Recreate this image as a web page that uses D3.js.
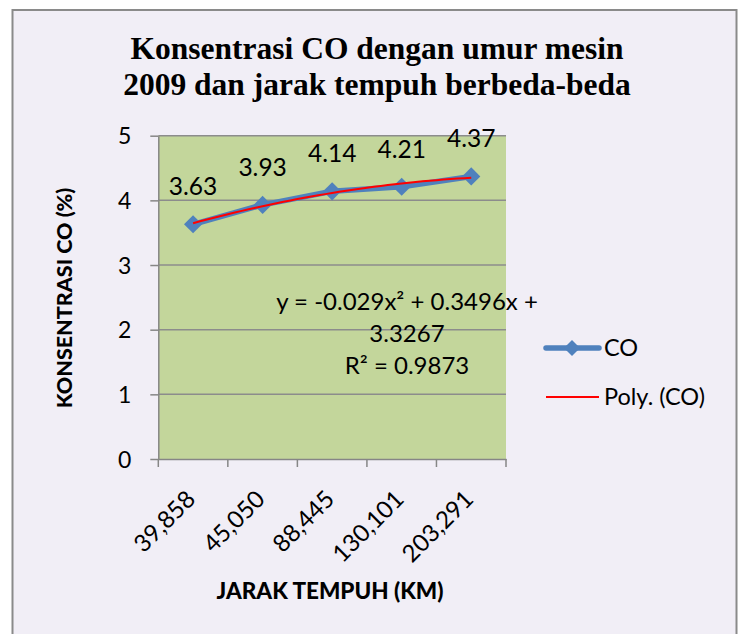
<!DOCTYPE html>
<html><head><meta charset="utf-8">
<script src="https://cdn.jsdelivr.net/npm/d3@7/dist/d3.min.js"></script>
<style>body{margin:0;background:#fff}svg{display:block}</style>
</head><body><svg id="c" width="741" height="634"></svg>
<script>
const titleLines = ["Konsentrasi CO dengan umur mesin", "2009 dan jarak tempuh berbeda-beda"];
const categories = ["39,858", "45,050", "88,445", "130,101", "203,291"];
const coValues = [3.63, 3.93, 4.14, 4.21, 4.37];
const yTicks = [0, 1, 2, 3, 4, 5];
const trendCoef = [-0.029, 0.3496, 3.3267];
const trendLabel = ["y = -0.029x² + 0.3496x +", "3.3267", "R² = 0.9873"];
const legendLabels = ["CO", "Poly. (CO)"];
const yTitle = "KONSENTRASI CO (%)";
const xTitle = "JARAK TEMPUH (KM)";

const svg = d3.select("#c");
const sans = "Lato, 'Noto Sans', sans-serif";
const blue = "#4f81bd";

svg.append("rect").attr("x", 12.5).attr("y", 10).attr("width", 724).attr("height", 640)
  .attr("fill", "#f1eef6").attr("stroke", "#8a8a8a").attr("stroke-width", 2);

// title
svg.append("g").selectAll("text").data(titleLines).join("text")
  .attr("x", 377).attr("y", (d, i) => 59 + i * 36)
  .attr("text-anchor", "middle")
  .attr("font-family", "'Liberation Serif', 'Times New Roman', serif")
  .attr("font-weight", "bold").attr("font-size", 31.5)
  .text(d => d);

const L = 158.3, R = 506, T = 135.7, B = 459;
const x = d3.scaleBand().domain(categories).range([L, R]).padding(0);
const y = d3.scaleLinear().domain([0, 5]).range([B, T]);

svg.append("rect").attr("x", L).attr("y", T).attr("width", R - L).attr("height", B - T).attr("fill", "#c3d69b");

// gridlines
svg.append("g").selectAll("line").data(yTicks.filter(d => d > 0)).join("line")
  .attr("x1", L).attr("x2", R).attr("y1", d => y(d)).attr("y2", d => y(d))
  .attr("stroke", "#8c8c8c").attr("stroke-width", 1.5);

// y axis
const yAxis = svg.append("g").attr("transform", `translate(${L},0)`)
  .call(d3.axisLeft(y).tickValues(yTicks).tickFormat(d3.format("d")).tickSize(8).tickPadding(19).tickSizeOuter(0));
yAxis.select(".domain").attr("stroke", "#868686").attr("stroke-width", 1.5);
yAxis.selectAll(".tick line").attr("stroke", "#868686").attr("stroke-width", 1.5);
yAxis.selectAll(".tick text").attr("font-family", sans).attr("font-size", 23).attr("fill", "#000").attr("dy", "0.36em");

// x axis
const xAxis = svg.append("g").attr("transform", `translate(0,${B})`)
  .call(d3.axisBottom(x).tickSize(0).tickFormat(""));
xAxis.select(".domain").attr("stroke", "#868686").attr("stroke-width", 1.5);
const edges = categories.map(c => x(c)).concat([R]);
svg.append("g").selectAll("line").data(edges).join("line")
  .attr("x1", d => d).attr("x2", d => d).attr("y1", B).attr("y2", B + 8)
  .attr("stroke", "#868686").attr("stroke-width", 1.5);
svg.append("g").selectAll("text").data(categories).join("text")
  .attr("transform", d => `translate(${x(d) + x.bandwidth() / 2 - 9},${B + 29}) rotate(-45)`)
  .attr("text-anchor", "end").attr("dy", "0.75em")
  .attr("font-family", sans).attr("font-size", 24).text(d => d);

// axis titles
svg.append("text").attr("transform", `translate(72,298) rotate(-90)`)
  .attr("text-anchor", "middle").attr("font-family", sans).attr("font-weight", 900)
  .attr("font-size", 21.5).text(yTitle);
svg.append("text").attr("x", 330).attr("y", 599).attr("text-anchor", "middle")
  .attr("font-family", sans).attr("font-weight", 900).attr("font-size", 22.5).text(xTitle);

const cx = d => x(d) + x.bandwidth() / 2;
// series line
const line = d3.line().x((d, i) => cx(categories[i])).y(d => y(d));
svg.append("path").datum(coValues).attr("d", line).attr("fill", "none")
  .attr("stroke", blue).attr("stroke-width", 5.5).attr("stroke-linejoin", "round");
svg.append("g").selectAll("path").data(coValues).join("path")
  .attr("d", d3.symbol(d3.symbolSquare, 165))
  .attr("transform", (d, i) => `translate(${cx(categories[i])},${y(d)}) rotate(45)`)
  .attr("fill", blue);

// trendline
const tx = d3.scaleLinear().domain([1, categories.length]).range([cx(categories[0]), cx(categories[categories.length - 1])]);
const ts = d3.range(1, categories.length + 0.001, 0.1);
const poly = t => trendCoef[0] * t * t + trendCoef[1] * t + trendCoef[2];
svg.append("path").datum(ts).attr("d", d3.line().x(t => tx(t)).y(t => y(poly(t))))
  .attr("fill", "none").attr("stroke", "#ff0000").attr("stroke-width", 2);

// data labels
svg.append("g").selectAll("text").data(coValues).join("text")
  .attr("x", (d, i) => cx(categories[i])).attr("y", d => y(d) - 29)
  .attr("text-anchor", "middle").attr("font-family", sans).attr("font-size", 24.5)
  .text(d => d.toFixed(2));

// equation
svg.append("g").selectAll("text").data(trendLabel).join("text")
  .attr("x", 407).attr("y", (d, i) => 310 + i * 32)
  .attr("text-anchor", "middle").attr("font-family", sans).attr("font-size", 24)
  .text(d => d);

// legend
const lg = svg.append("g");
lg.append("line").attr("x1", 546).attr("x2", 599).attr("y1", 348).attr("y2", 348)
  .attr("stroke", blue).attr("stroke-width", 5.5).attr("stroke-linecap", "round");
lg.append("path").attr("d", d3.symbol(d3.symbolSquare, 130)).attr("transform", "translate(572,348) rotate(45)").attr("fill", blue);
lg.append("line").attr("x1", 546).attr("x2", 599).attr("y1", 397).attr("y2", 397)
  .attr("stroke", "#ff0000").attr("stroke-width", 2);
lg.selectAll("text").data(legendLabels).join("text")
  .attr("x", 604).attr("y", (d, i) => 356 + i * 49)
  .attr("font-family", sans).attr("font-size", 23.5).text(d => d);
</script></body></html>
